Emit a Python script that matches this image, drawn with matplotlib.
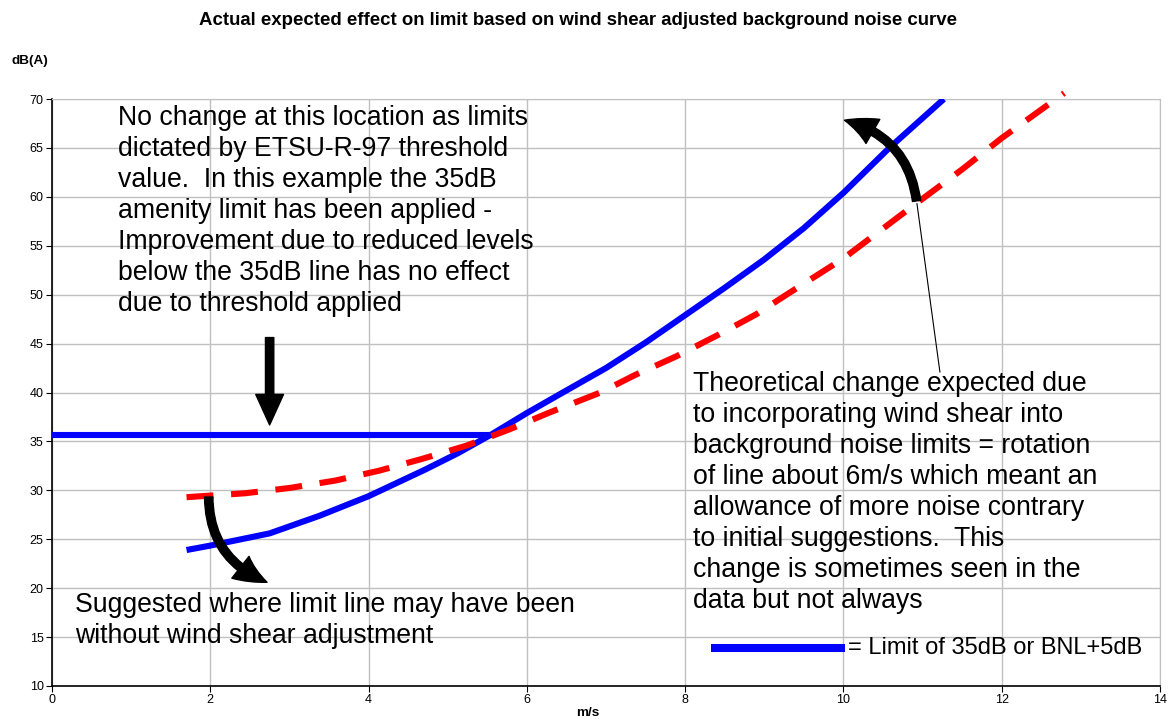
import numpy as np
import matplotlib.pyplot as plt
from matplotlib.patches import FancyArrowPatch, ArrowStyle

plt.rcParams['font.family'] = ['Liberation Sans', 'DejaVu Sans']

# limit line: 35dB threshold part
flat_x = [0, 5.59]
flat_y = [35.7, 35.7]

# limit line: BNL+5dB part
limit_x = [1.70, 2.0, 2.75, 3.38, 4.0, 4.71, 5.13, 5.55, 6.0, 6.39, 7.0, 7.5, 8.0,
           8.5, 9.0, 9.5, 10.0, 10.58, 11.27]
limit_y = [23.9, 24.35, 25.6, 27.4, 29.4, 32.1, 33.8, 35.7, 37.9, 39.7, 42.5, 45.1, 47.9,
           50.7, 53.6, 56.8, 60.4, 65.0, 70.0]

# suggested line without wind shear adjustment
sugg_x = [1.70, 2.44, 3.01, 3.58, 4.13, 4.67, 5.23, 5.77, 6.27, 6.93, 7.37, 7.89, 8.42,
          8.9, 9.32, 10.0, 10.9, 11.5, 12.0, 12.79]
sugg_y = [29.3, 29.7, 30.25, 31.0, 32.0, 33.2, 34.55, 36.2, 37.9, 40.0, 41.8, 43.7, 45.9,
          48.0, 50.2, 53.7, 59.2, 62.8, 66.0, 70.6]

xticks = np.arange(0, 15, 2)
yticks = np.arange(10, 71, 5)

fig = plt.figure(figsize=(11.74, 7.19), dpi=100)
ax = fig.add_axes([0.0443, 0.0459, 0.9437, 0.8164])

ax.plot(flat_x, flat_y, color='#0000ff', lw=4.4, solid_capstyle='butt', zorder=3)
ax.plot(limit_x, limit_y, color='#0000ff', lw=4.4, solid_capstyle='butt', zorder=3)
ax.plot(sugg_x, sugg_y, color='#ff0000', lw=4.4, dashes=(4.4, 2.9),
        clip_on=False, zorder=3)

ax.set_xlim(0, 14)
ax.set_ylim(10, 70)
ax.set_xticks(xticks)
ax.set_yticks(yticks)
ax.grid(True, color='#c0c0c0', lw=1)
ax.set_axisbelow(True)
for s in ['top', 'right']:
    ax.spines[s].set_color('#c0c0c0')
for s in ['left', 'bottom']:
    ax.spines[s].set_color('black')
    ax.spines[s].set_linewidth(1.2)
ax.tick_params(labelsize=9, length=4, direction='out', color='black', pad=2)

fig.text(0.4923, 0.972, 'Actual expected effect on limit based on wind shear adjusted background noise curve',
         ha='center', va='center', fontsize=13.4, fontweight='bold')
fig.text(0.010, 0.915, 'dB(A)', ha='left', va='center', fontsize=9.7, fontweight='bold')
fig.text(0.501, 0.009, 'm/s', ha='center', va='center', fontsize=9.7, fontweight='bold')

fs = 19.2
ax.text(0.83, 69.4, 'No change at this location as limits\ndictated by ETSU-R-97 threshold\n'
        'value.  In this example the 35dB\namenity limit has been applied -\n'
        'Improvement due to reduced levels\nbelow the 35dB line has no effect\n'
        'due to threshold applied', ha='left', va='top', fontsize=fs, linespacing=1.25)
ax.text(0.29, 19.6, 'Suggested where limit line may have been\nwithout wind shear adjustment',
        ha='left', va='top', fontsize=fs, linespacing=1.25)
ax.text(8.1, 42.2, 'Theoretical change expected due\nto incorporating wind shear into\n'
        'background noise limits = rotation\nof line about 6m/s which meant an\n'
        'allowance of more noise contrary\nto initial suggestions.  This\n'
        'change is sometimes seen in the\ndata but not always',
        ha='left', va='top', fontsize=fs, linespacing=1.25)

# legend-like key
ax.plot([8.33, 10.02], [13.9, 13.9], color='#0000ff', lw=5.8, solid_capstyle='butt')
ax.text(10.06, 13.9, '= Limit of 35dB or BNL+5dB', ha='left', va='center', fontsize=17)

# arrows
style = ArrowStyle('Simple', head_length=0.55, head_width=0.5, tail_width=0.15)
a1 = FancyArrowPatch((2.75, 45.9), (2.75, 36.4), arrowstyle=style, mutation_scale=40,
                     color='black', zorder=5)
a2 = FancyArrowPatch((1.98, 29.6), (2.75, 20.5), arrowstyle=style, mutation_scale=40,
                     connectionstyle='arc3,rad=0.35', color='black', zorder=5)
a3 = FancyArrowPatch((10.93, 59.3), (9.98, 67.9), arrowstyle=style, mutation_scale=40,
                     connectionstyle='arc3,rad=0.35', color='black', zorder=5)
for a in (a1, a2, a3):
    ax.add_patch(a)
ax.plot([11.22, 10.93], [42.1, 59.3], color='black', lw=0.8, zorder=5)

fig.savefig('out.png', dpi=100)
